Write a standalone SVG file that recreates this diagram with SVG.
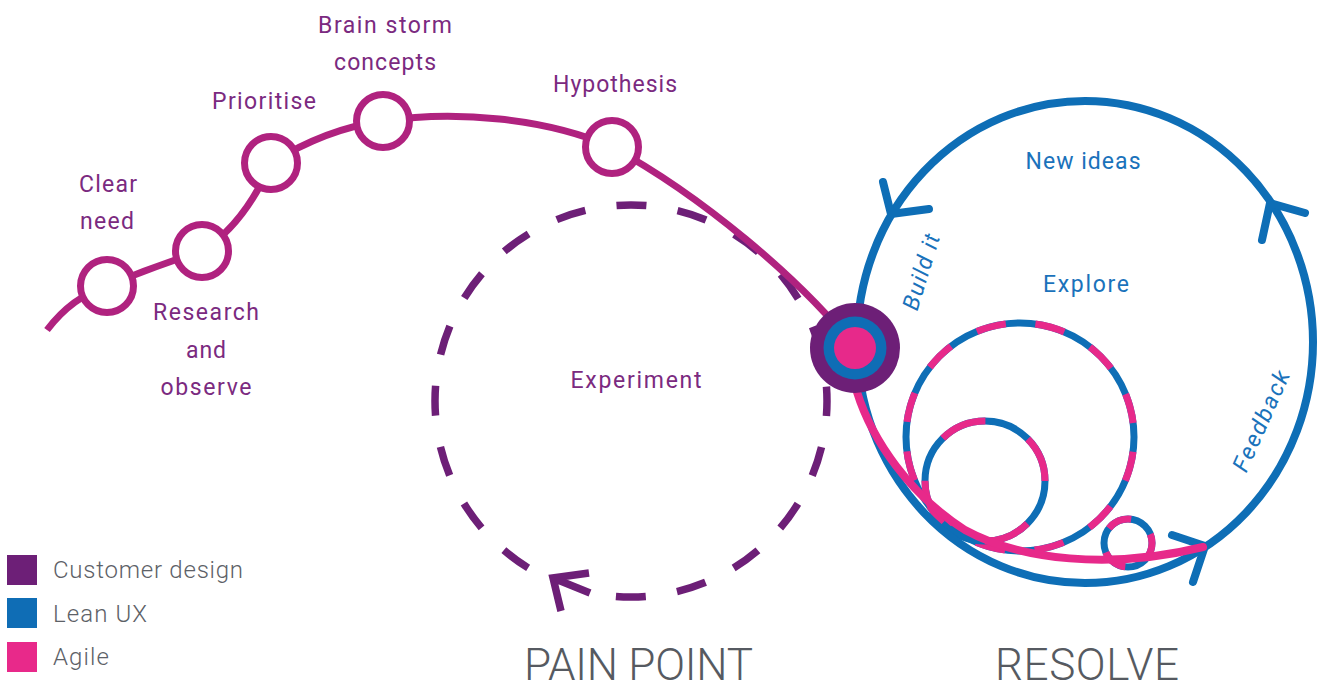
<svg xmlns="http://www.w3.org/2000/svg" width="1322" height="688" viewBox="0 0 1322 688">
<style>
.lbl{font-family:Roboto,"DejaVu Sans",sans-serif;font-size:23px;fill:#7B2A80;text-anchor:middle}
.blbl{font-family:Roboto,"DejaVu Sans",sans-serif;font-size:23px;fill:#1A72BB;text-anchor:middle}
.leg{font-family:Roboto,"DejaVu Sans",sans-serif;font-size:24px;fill:#5D6167;font-weight:300}
.big{font-family:Roboto,"DejaVu Sans",sans-serif;font-size:44px;fill:#565A61;font-weight:300}
.mag{fill:none;stroke:#B0227F;stroke-width:7}
.stepc{fill:#fff;stroke:#B0227F;stroke-width:7}
.blue{fill:none;stroke:#0E6EB6;stroke-width:8;stroke-linecap:round;stroke-linejoin:round}
.pink{fill:none;stroke:#E7298A;stroke-width:8;stroke-linecap:round}
.purp{fill:none;stroke:#6D1F77;stroke-width:7.5}
.exb{fill:none;stroke:#0E6EB6;stroke-width:7}
.exp{fill:none;stroke:#E7298A;stroke-width:7}
</style>

<g id="connectors">
  <!-- Experiment dashed loop -->
  <circle class="purp" cx="631" cy="401" r="196" stroke-dasharray="30 31.58" stroke-dashoffset="15"/>
  <rect x="540" y="565" width="60" height="40" fill="#fff" transform="rotate(20 570 585)"/>
  <path class="purp" d="M590,593 L553,578 M589,573 L553,578 L561,611" stroke-linecap="butt" stroke-linejoin="miter"/>

  <!-- Explore loops -->
  <circle class="exb" cx="1020" cy="437" r="114"/>
  <circle class="exp" cx="1020" cy="437" r="114" stroke-dasharray="29.85 29.85" stroke-dashoffset="44.8"/>
  <circle class="exb" cx="985" cy="481" r="60"/>
  <circle class="exp" cx="985" cy="481" r="60" stroke-dasharray="47.12 47.12" stroke-dashoffset="47.12"/>
  <circle class="exb" cx="1128" cy="543" r="24"/>
  <circle class="exp" cx="1128" cy="543" r="24" stroke-dasharray="25.13 25.13" stroke-dashoffset="10"/>

  <!-- Lean UX loop -->
  <ellipse class="blue" cx="1085" cy="342" rx="228" ry="241"/>
  <path class="blue" d="M883,182 L891,214 L929,209"/>
  <path class="blue" d="M1305,213 L1270,203 L1262,240"/>
  <path class="blue" d="M1172,535 L1205,546 L1193,582"/>

  <!-- Agile path -->
  <path class="pink" d="M857,392 C872,440 910,495 965,530 C1020,560 1110,570 1203,547"/>

  <!-- Customer design path -->
  <path class="mag" d="M47,330 Q72,297 107,286 Q155,266 202,251 C232,232 255,200 271,163 C305,142 345,126 383,121 C455,110 545,118 612,147 C700,195 800,278 855,348"/>
</g>

<g id="step-clear-need">
  <circle class="stepc" cx="107" cy="286" r="26.5"/>
  <text class="lbl" x="108" y="192" textLength="58">Clear</text>
  <text class="lbl" x="107" y="229" textLength="54">need</text>
</g>
<g id="step-research">
  <circle class="stepc" cx="202" cy="251" r="26.5"/>
  <text class="lbl" x="206" y="320" textLength="106">Research</text>
  <text class="lbl" x="206" y="358" textLength="40">and</text>
  <text class="lbl" x="206" y="395" textLength="91">observe</text>
</g>
<g id="step-prioritise">
  <circle class="stepc" cx="271" cy="163" r="26.5"/>
  <text class="lbl" x="264" y="109" textLength="104">Prioritise</text>
</g>
<g id="step-brainstorm">
  <circle class="stepc" cx="383" cy="121" r="26.5"/>
  <text class="lbl" x="385" y="33" textLength="134">Brain storm</text>
  <text class="lbl" x="385" y="70" textLength="102">concepts</text>
</g>
<g id="step-hypothesis">
  <circle class="stepc" cx="612" cy="147" r="26.5"/>
  <text class="lbl" x="615" y="92" textLength="124">Hypothesis</text>
</g>
<g id="experiment">
  <text class="lbl" x="636" y="388" textLength="131">Experiment</text>
</g>
<g id="node-pain-point">
  <circle cx="855" cy="348" r="45" fill="#6D1F77"/>
  <circle cx="855" cy="348" r="31.5" fill="#0F6DB5"/>
  <circle cx="855" cy="348" r="21" fill="#E7298A"/>
</g>
<g id="resolve-labels">
  <text class="blbl" x="1083" y="169" textLength="115">New ideas</text>
  <text class="blbl" x="1086" y="292" textLength="86">Explore</text>
  <text class="blbl" font-style="italic" transform="translate(921 272) rotate(-73)" x="0" y="8" textLength="78">Build it</text>
  <text class="blbl" font-style="italic" transform="translate(1261 421) rotate(-66)" x="0" y="8" textLength="108">Feedback</text>
</g>
<g id="legend">
  <rect x="7" y="555" width="30" height="30" fill="#6D1F77"/>
  <rect x="7" y="598" width="30" height="30" fill="#0F6DB5"/>
  <rect x="7" y="642" width="30" height="30" fill="#E8298A"/>
  <text class="leg" x="53" y="578" textLength="190">Customer design</text>
  <text class="leg" x="53" y="622" textLength="94">Lean UX</text>
  <text class="leg" x="53" y="665" textLength="56">Agile</text>
</g>
<g id="titles">
  <text class="big" x="524" y="680" textLength="229">PAIN POINT</text>
  <text class="big" x="995" y="680" textLength="184">RESOLVE</text>
</g>
</svg>
